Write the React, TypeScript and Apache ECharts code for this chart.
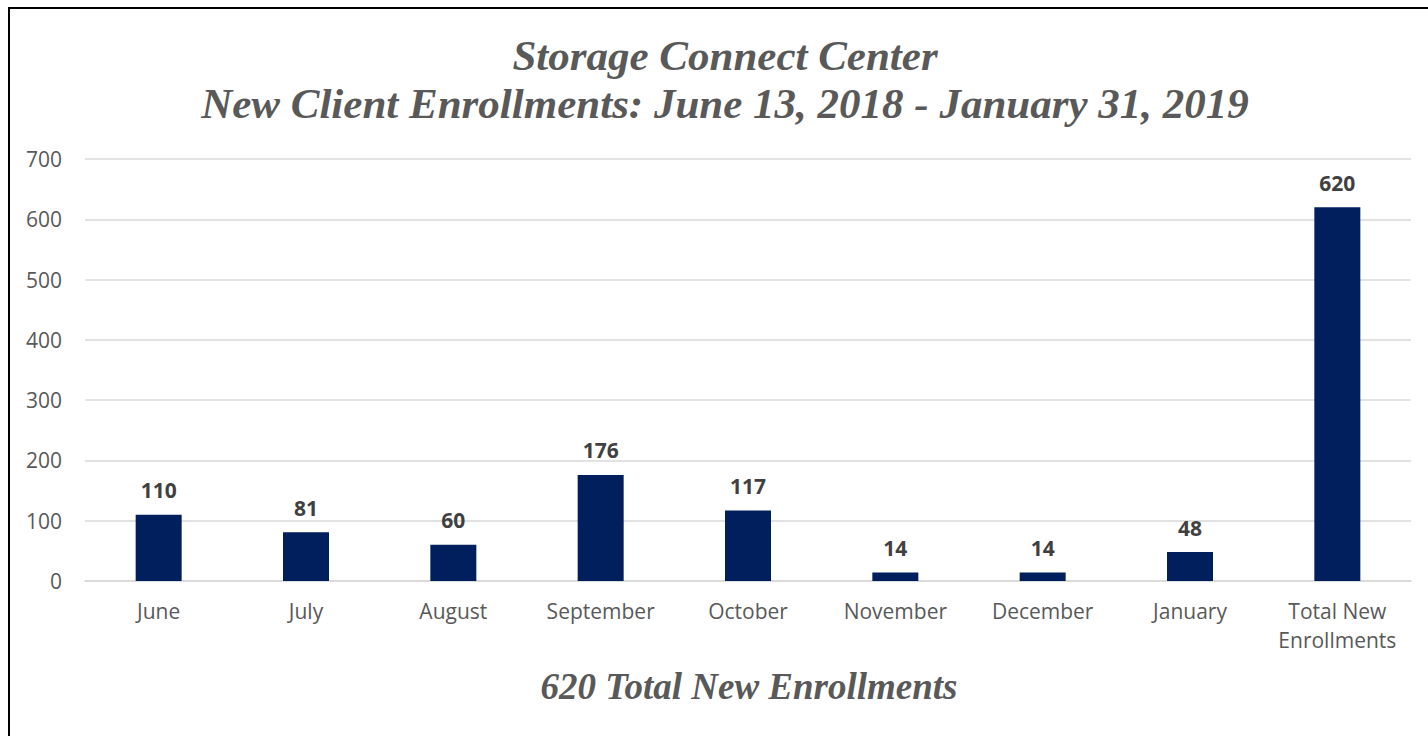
import React, { useEffect, useRef } from "react";
import * as echarts from "echarts";

const categories = ["June", "July", "August", "September", "October", "November", "December", "January", "Total New\nEnrollments"];
const enrollments = [110, 81, 60, 176, 117, 14, 14, 48, 620];
const yTicks = { min: 0, max: 700, interval: 100 };
const titleLines = ["Storage Connect Center", "New Client Enrollments: June 13, 2018 - January 31, 2019"];
const footerText = "620 Total New Enrollments";

export default function App() {
  const ref = useRef<HTMLDivElement>(null);
  useEffect(() => {
    const chart = echarts.init(ref.current!, null, { renderer: "svg" });
    chart.setOption({
      animation: false,
      backgroundColor: "#ffffff",
      title: [
        {
          text: titleLines.join("\n"),
          left: 720,
          top: 26,
          textAlign: "center",
          textStyle: {
            fontFamily: "Liberation Serif",
            fontStyle: "italic",
            fontWeight: "bold",
            fontSize: 43,
            lineHeight: 48,
            color: "#595959",
          },
        },
        {
          text: footerText,
          left: 744,
          top: 663,
          textAlign: "center",
          textStyle: {
            fontFamily: "Liberation Serif",
            fontStyle: "italic",
            fontWeight: "bold",
            fontSize: 37,
            color: "#595959",
          },
        },
      ],
      graphic: [
        {
          type: "rect",
          shape: { x: 9, y: 8, width: 1440, height: 760 },
          style: { fill: "none", stroke: "#000000", lineWidth: 2 },
          silent: true,
        },
      ],
      grid: { left: 85, right: 17, top: 159, bottom: 155, containLabel: false },
      xAxis: {
        type: "category",
        data: categories,
        axisLine: { show: true, lineStyle: { color: "#d9d9d9", width: 1.5 } },
        axisTick: { show: false },
        axisLabel: {
          color: "#595959",
          fontFamily: "Open Sans",
          fontSize: 21,
          lineHeight: 29,
          margin: 15,
          interval: 0,
        },
      },
      yAxis: {
        type: "value",
        min: yTicks.min,
        max: yTicks.max,
        interval: yTicks.interval,
        axisLine: { show: false },
        axisTick: { show: false },
        splitLine: { lineStyle: { color: "#d9d9d9", width: 1.5 } },
        axisLabel: {
          color: "#595959",
          fontFamily: "Open Sans",
          fontSize: 21,
          margin: 23,
        },
      },
      series: [
        {
          type: "bar",
          data: enrollments,
          barWidth: 46,
          itemStyle: { color: "#001f5c" },
          label: {
            show: true,
            position: "top",
            distance: 14,
            color: "#404040",
            fontFamily: "Open Sans",
            fontWeight: "bold",
            fontSize: 21,
          },
        },
      ],
    });
    return () => chart.dispose();
  }, []);
  return (
    <div
      ref={ref}
      style={{ position: "fixed", left: 0, top: 0, width: 1428, height: 736 }}
    />
  );
}
